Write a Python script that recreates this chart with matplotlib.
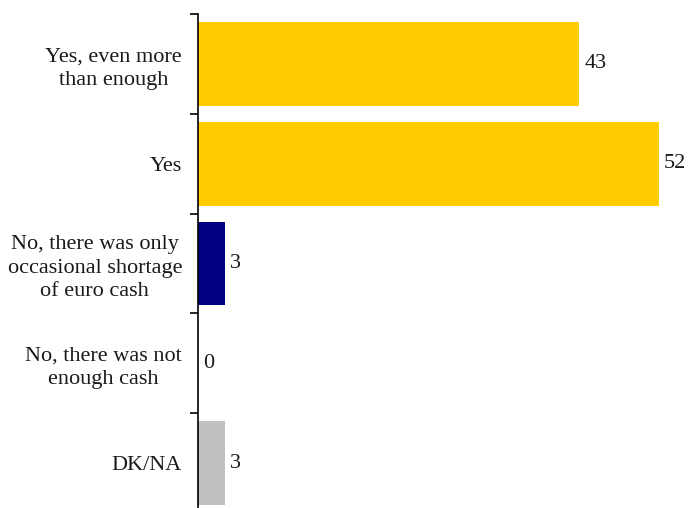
import matplotlib
matplotlib.use("Agg")
import matplotlib.pyplot as plt

categories = [
    "Yes, even more\nthan enough",
    "Yes",
    "No, there was only\noccasional shortage\nof euro cash",
    "No, there was not\nenough cash",
    "DK/NA",
]
values = [43, 52, 3, 0, 3]
colors = ["#FFCC00", "#FFCC00", "#000080", "#000080", "#C0C0C0"]

plt.rcParams["font.family"] = ["Liberation Serif", "DejaVu Serif"]

fig = plt.figure(figsize=(6.92, 5.08), dpi=100)
ax = fig.add_axes([198 / 692, 0, 1 - 198 / 692, (508 - 14) / 508])

pos = list(range(len(categories)))
ax.barh(pos, values, height=0.84, color=colors, zorder=2)

for p, v in zip(pos, values):
    ax.text(v + 0.55, p, f"{v}", va="center", ha="left", fontsize=16, color="#1a1a1a")

ax.set_xlim(0, 55.7)
ax.set_ylim(4.45, -0.5)

# boundary ticks between categories, labels centred in each band
ax.set_yticks([-0.5, 0.5, 1.5, 2.5, 3.5])
ax.set_yticklabels([])
ax.tick_params(axis="y", which="major", length=6, width=1.2, direction="out")
ax.set_yticks(pos, minor=True)
ax.set_yticklabels(categories, minor=True, fontsize=16, color="#1a1a1a",
                   linespacing=1.31, ha="right", multialignment="center")
ax.tick_params(axis="y", which="minor", length=0, pad=11.5)

ax.set_xticks([])
for s in ["top", "right", "bottom"]:
    ax.spines[s].set_visible(False)
ax.spines["left"].set_linewidth(1.2)

fig.savefig("out.png", dpi=100)
